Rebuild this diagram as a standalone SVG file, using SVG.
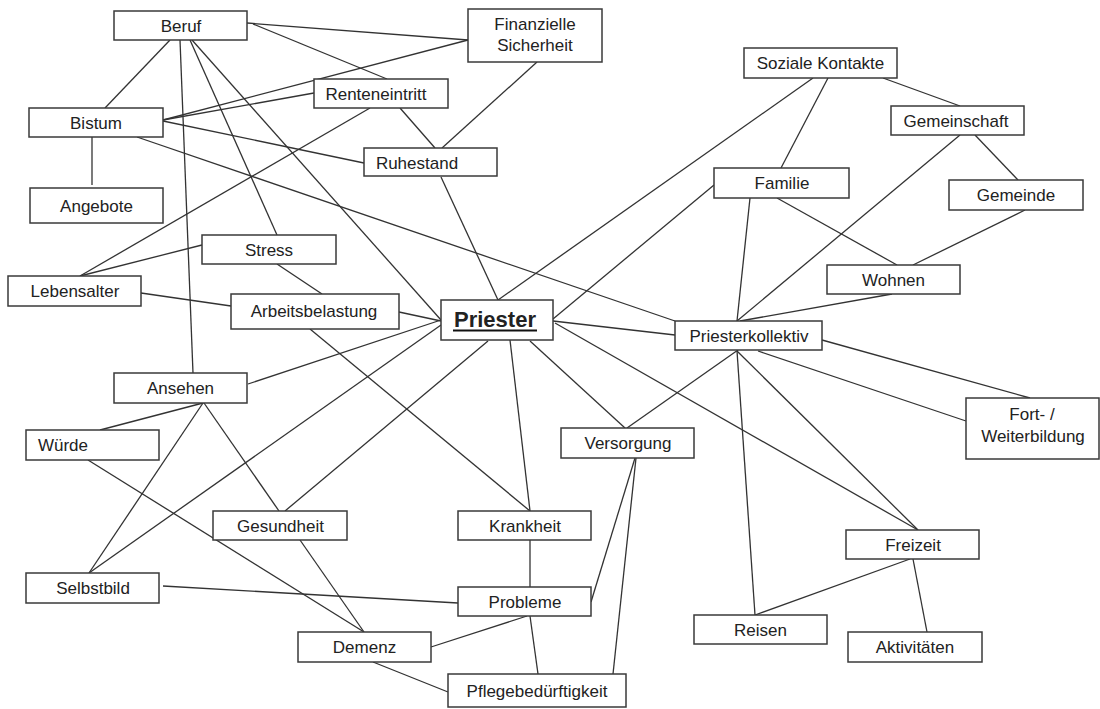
<svg xmlns="http://www.w3.org/2000/svg" width="1100" height="709" viewBox="0 0 1100 709">
<style>
.c line{stroke:#333;stroke-width:1.3;fill:none}
.n rect{fill:#fff;stroke:#3a3a3a;stroke-width:1.5}
.n text{font-family:"Liberation Sans",Arial,sans-serif;font-size:17px;fill:#222;text-anchor:middle}
#priester text{font-size:22px;font-weight:bold}
</style>
<rect width="1100" height="709" fill="#fff"/>
<g id="connectors" class="c">
<line x1="247" y1="23" x2="468" y2="40"/>
<line x1="253" y1="24" x2="387" y2="79"/>
<line x1="170" y1="40" x2="105" y2="108"/>
<line x1="180" y1="40" x2="193" y2="373"/>
<line x1="190" y1="40" x2="277" y2="235"/>
<line x1="192" y1="40" x2="441" y2="320"/>
<line x1="163" y1="120" x2="468" y2="40"/>
<line x1="163" y1="120" x2="314" y2="93"/>
<line x1="92" y1="137" x2="92" y2="185"/>
<line x1="163" y1="121" x2="364" y2="163"/>
<line x1="137" y1="137" x2="675" y2="321"/>
<line x1="400" y1="108" x2="435" y2="148"/>
<line x1="370" y1="108" x2="80" y2="276"/>
<line x1="537" y1="62" x2="442" y2="148"/>
<line x1="441" y1="177" x2="498" y2="300"/>
<line x1="202" y1="245" x2="80" y2="276"/>
<line x1="277" y1="264" x2="322" y2="294"/>
<line x1="141" y1="293" x2="231" y2="306"/>
<line x1="399" y1="312" x2="441" y2="321"/>
<line x1="310" y1="329" x2="530" y2="511"/>
<line x1="248" y1="384" x2="441" y2="320"/>
<line x1="203" y1="403" x2="100" y2="430"/>
<line x1="203" y1="403" x2="89" y2="573"/>
<line x1="204" y1="403" x2="279" y2="511"/>
<line x1="88" y1="460" x2="364" y2="632"/>
<line x1="285" y1="511" x2="488" y2="341"/>
<line x1="89" y1="573" x2="441" y2="325"/>
<line x1="163" y1="586" x2="458" y2="603"/>
<line x1="300" y1="540" x2="364" y2="632"/>
<line x1="431" y1="647" x2="527" y2="616"/>
<line x1="373" y1="662" x2="448" y2="692"/>
<line x1="530" y1="616" x2="538" y2="674"/>
<line x1="530" y1="540" x2="530" y2="587"/>
<line x1="510" y1="340" x2="530" y2="511"/>
<line x1="635" y1="458" x2="591" y2="602"/>
<line x1="636" y1="458" x2="613" y2="674"/>
<line x1="530" y1="341" x2="625" y2="428"/>
<line x1="627" y1="428" x2="738" y2="350"/>
<line x1="553" y1="321" x2="675" y2="335"/>
<line x1="555" y1="323" x2="918" y2="530"/>
<line x1="498" y1="300" x2="813" y2="78"/>
<line x1="553" y1="319" x2="714" y2="185"/>
<line x1="828" y1="78" x2="781" y2="168"/>
<line x1="883" y1="78" x2="960" y2="106"/>
<line x1="960" y1="135" x2="737" y2="321"/>
<line x1="975" y1="135" x2="1018" y2="180"/>
<line x1="1025" y1="210" x2="913" y2="265"/>
<line x1="777" y1="198" x2="897" y2="265"/>
<line x1="750" y1="198" x2="737" y2="321"/>
<line x1="892" y1="294" x2="740" y2="321"/>
<line x1="822" y1="340" x2="1030" y2="398"/>
<line x1="758" y1="351" x2="966" y2="421"/>
<line x1="737" y1="351" x2="918" y2="530"/>
<line x1="737" y1="351" x2="755" y2="615"/>
<line x1="910" y1="559" x2="755" y2="615"/>
<line x1="913" y1="559" x2="927" y2="632"/>
</g>
<g id="beruf" class="n"><rect x="114" y="11" width="133" height="29"/><text x="181" y="32">Beruf</text></g>
<g id="finanzielle" class="n"><rect x="468" y="9" width="134" height="53"/><text x="535" y="30">Finanzielle</text><text x="535" y="51">Sicherheit</text></g>
<g id="renteneintritt" class="n"><rect x="314" y="79" width="134" height="29"/><text x="376" y="100">Renteneintritt</text></g>
<g id="bistum" class="n"><rect x="29" y="108" width="134" height="29"/><text x="96" y="129">Bistum</text></g>
<g id="angebote" class="n"><rect x="30" y="188" width="133" height="35"/><text x="96.5" y="212">Angebote</text></g>
<g id="ruhestand" class="n"><rect x="364" y="148" width="133" height="28"/><text x="417" y="169">Ruhestand</text></g>
<g id="soziale" class="n"><rect x="744" y="48" width="153" height="30"/><text x="820.5" y="69">Soziale Kontakte</text></g>
<g id="gemeinschaft" class="n"><rect x="891" y="106" width="133" height="29"/><text x="956" y="127">Gemeinschaft</text></g>
<g id="familie" class="n"><rect x="714" y="168" width="135" height="30"/><text x="782" y="189">Familie</text></g>
<g id="gemeinde" class="n"><rect x="949" y="180" width="134" height="30"/><text x="1016" y="201">Gemeinde</text></g>
<g id="stress" class="n"><rect x="202" y="235" width="134" height="29"/><text x="269" y="256">Stress</text></g>
<g id="lebensalter" class="n"><rect x="8" y="276" width="133" height="30"/><text x="75" y="297">Lebensalter</text></g>
<g id="arbeitsbelastung" class="n"><rect x="231" y="294" width="168" height="35"/><text x="314" y="317">Arbeitsbelastung</text></g>
<g id="priester" class="n"><rect x="441" y="300" width="112" height="40"/><text x="495" y="327">Priester</text><line x1="453" y1="330.5" x2="537" y2="330.5" stroke="#111" stroke-width="2.2"/></g>
<g id="wohnen" class="n"><rect x="827" y="265" width="133" height="29"/><text x="893.5" y="286">Wohnen</text></g>
<g id="priesterkollektiv" class="n"><rect x="675" y="321" width="147" height="29"/><text x="749" y="342">Priesterkollektiv</text></g>
<g id="ansehen" class="n"><rect x="114" y="373" width="133" height="30"/><text x="180.5" y="394">Ansehen</text></g>
<g id="wuerde" class="n"><rect x="26" y="430" width="133" height="30"/><text x="63" y="451">Würde</text></g>
<g id="versorgung" class="n"><rect x="561" y="428" width="133" height="30"/><text x="628" y="449">Versorgung</text></g>
<g id="fort" class="n"><rect x="966" y="398" width="133" height="61"/><text x="1032" y="420">Fort- /</text><text x="1033" y="442">Weiterbildung</text></g>
<g id="gesundheit" class="n"><rect x="213" y="511" width="134" height="29"/><text x="280.5" y="532">Gesundheit</text></g>
<g id="krankheit" class="n"><rect x="458" y="511" width="133" height="29"/><text x="525" y="532">Krankheit</text></g>
<g id="freizeit" class="n"><rect x="846" y="530" width="133" height="29"/><text x="913" y="551">Freizeit</text></g>
<g id="selbstbild" class="n"><rect x="26" y="573" width="133" height="30"/><text x="93" y="594">Selbstbild</text></g>
<g id="probleme" class="n"><rect x="458" y="587" width="133" height="29"/><text x="525" y="608">Probleme</text></g>
<g id="reisen" class="n"><rect x="694" y="615" width="133" height="29"/><text x="760.5" y="636">Reisen</text></g>
<g id="demenz" class="n"><rect x="298" y="632" width="133" height="30"/><text x="364.5" y="653">Demenz</text></g>
<g id="aktivitaeten" class="n"><rect x="848" y="632" width="134" height="30"/><text x="915" y="653">Aktivitäten</text></g>
<g id="pflege" class="n"><rect x="448" y="674" width="178" height="33"/><text x="537" y="697">Pflegebedürftigkeit</text></g>
</svg>
